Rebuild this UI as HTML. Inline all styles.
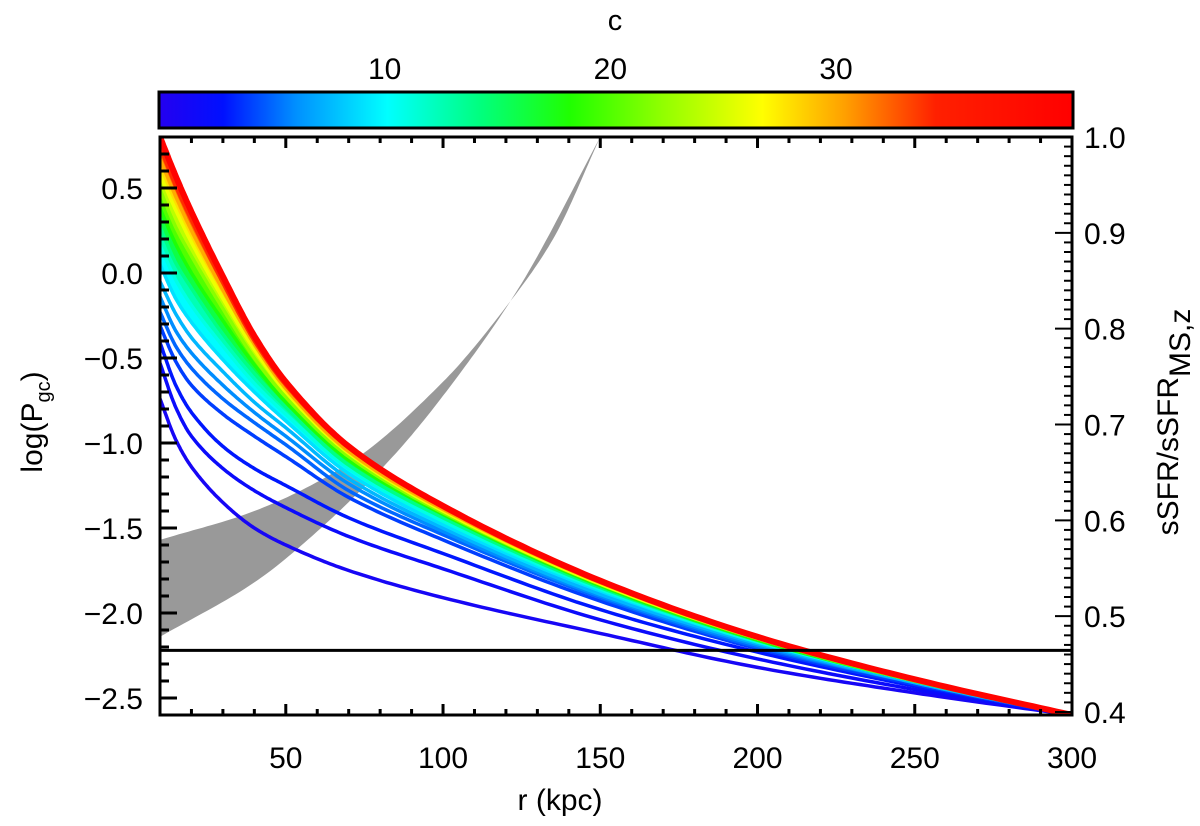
<!DOCTYPE html>
<html><head><meta charset="utf-8"><style>
html,body{margin:0;padding:0;background:#fff;}
svg text{font-family:"Liberation Sans",sans-serif;fill:#000;}
</style></head><body>
<svg id="chart" width="1200" height="821" viewBox="0 0 1200 821" xmlns="http://www.w3.org/2000/svg">
<defs>
<linearGradient id="cbar" x1="0" x2="1" y1="0" y2="0">
<stop offset="0" stop-color="#2400f0"/><stop offset="0.07" stop-color="#0010ff"/><stop offset="0.15" stop-color="#0090ff"/><stop offset="0.25" stop-color="#00ffff"/><stop offset="0.35" stop-color="#00ff80"/><stop offset="0.45" stop-color="#20ff00"/><stop offset="0.55" stop-color="#90ff00"/><stop offset="0.66" stop-color="#ffff00"/><stop offset="0.75" stop-color="#ffa000"/><stop offset="0.85" stop-color="#ff2000"/><stop offset="1" stop-color="#ff0000"/>
</linearGradient>
<clipPath id="pclip"><rect x="160" y="137" width="912" height="578"/></clipPath>
</defs>
<text x="615" y="30" font-size="29" text-anchor="middle">c</text>
<rect x="159" y="92" width="914" height="36" fill="url(#cbar)" stroke="#000" stroke-width="3"/>
<g id="cbticks"></g>
<g id="band" clip-path="url(#pclip)"></g>
<g id="curves" clip-path="url(#pclip)"></g>
<line id="hline" x1="160" x2="1072" stroke="#000" stroke-width="3"/>
<g id="axes"></g>
<text x="560" y="810" font-size="30" text-anchor="middle">r  (kpc)</text>
<text transform="translate(42,422) rotate(-90)" font-size="30" text-anchor="middle">log(P<tspan font-size="20" dy="8">gc</tspan><tspan dy="-8">)</tspan></text>
<text transform="translate(1178,422) rotate(-90)" font-size="30" text-anchor="middle">sSFR/sSFR<tspan dy="12">MS,z</tspan></text>
</svg>
<script>
const rGrid = [10,15,20,30,40,50,70,100,150,200,250,300];
const cValues = [1,2,3,4,5,6,7.5,9,11,14,18,22,26,30,34,40];
const curveViolet = [-0.74,-0.98,-1.14,-1.35,-1.50,-1.60,-1.75,-1.91,-2.12,-2.32,-2.47,-2.60];
const curveBlue2 = [-0.53,-0.79,-0.96,-1.15,-1.28,-1.38,-1.55,-1.74,-2.04,-2.27,-2.45,-2.60];
const curveBlue3 = [-0.41,-0.66,-0.82,-1.02,-1.15,-1.25,-1.44,-1.65,-1.98,-2.23,-2.43,-2.60];
const curveA = [-0.31,-0.52,-0.66,-0.83,-0.96,-1.08,-1.32,-1.57,-1.93,-2.21,-2.42,-2.60];
const curveB = [-0.23,-0.43,-0.56,-0.74,-0.88,-1.01,-1.28,-1.54,-1.91,-2.20,-2.41,-2.60];
const curveC = [-0.14,-0.34,-0.47,-0.66,-0.82,-0.96,-1.24,-1.52,-1.90,-2.19,-2.41,-2.60];
const curveD = [-0.05,-0.24,-0.38,-0.58,-0.76,-0.91,-1.21,-1.50,-1.89,-2.18,-2.41,-2.60];
const curveE = [0.05,-0.15,-0.29,-0.51,-0.70,-0.87,-1.18,-1.48,-1.87,-2.17,-2.40,-2.60];
const curveF = [0.16,-0.04,-0.19,-0.43,-0.65,-0.83,-1.15,-1.46,-1.86,-2.17,-2.40,-2.60];
const curveG = [0.27,0.06,-0.09,-0.36,-0.59,-0.79,-1.13,-1.44,-1.85,-2.16,-2.40,-2.60];
const curveH = [0.38,0.17,0.00,-0.28,-0.54,-0.76,-1.10,-1.42,-1.84,-2.16,-2.40,-2.60];
const curveI = [0.49,0.27,0.10,-0.21,-0.50,-0.73,-1.08,-1.41,-1.83,-2.15,-2.40,-2.60];
const curveJ = [0.58,0.37,0.18,-0.15,-0.45,-0.70,-1.06,-1.40,-1.83,-2.15,-2.39,-2.60];
const curveK = [0.67,0.45,0.25,-0.10,-0.42,-0.68,-1.05,-1.39,-1.82,-2.15,-2.39,-2.60];
const curveL = [0.74,0.51,0.31,-0.06,-0.40,-0.66,-1.03,-1.38,-1.82,-2.14,-2.39,-2.60];
const curveRed = [0.80,0.57,0.36,-0.02,-0.37,-0.64,-1.02,-1.37,-1.81,-2.14,-2.39,-2.60];
const bandUpperR = [10,40,70,100,120,135,150];
const bandUpperV = [-1.57,-1.40,-1.12,-0.64,-0.20,0.20,0.80];
const bandLowerR = [10,40,60,85,105,125,150];
const bandLowerV = [-2.14,-1.82,-1.52,-1.06,-0.60,-0.06,0.80];
const thresholdValue = -2.22;
const xTickLabels = [50,100,150,200,250,300];
const yTickLabels = [-2.5,-2.0,-1.5,-1.0,-0.5,0.0,0.5];
const rightTickLabels = [0.4,0.5,0.6,0.7,0.8,0.9,1.0];
const cbTickLabels = [10,20,30];

const curves=[curveViolet,curveBlue2,curveBlue3,curveA,curveB,curveC,curveD,curveE,curveF,curveG,curveH,curveI,curveJ,curveK,curveL,curveRed];
const NS="http://www.w3.org/2000/svg";
const X0=160,X1=1072,Y0=137,Y1=715;
const xs=r=>X0+(r-10)/290*(X1-X0);
const ys=v=>Y0+(0.8-v)/3.4*(Y1-Y0);
const yr=v=>712-(v-0.4)/0.6*(712-Y0);
const cs=c=>159+c/40.5*914;
const stops=[[0,[36,0,240]],[0.07,[0,16,255]],[0.15,[0,144,255]],[0.25,[0,255,255]],[0.35,[0,255,128]],[0.45,[32,255,0]],[0.55,[144,255,0]],[0.66,[255,255,0]],[0.75,[255,160,0]],[0.85,[255,32,0]],[1,[255,0,0]]];
function cmap(c){const t=Math.max(0,Math.min(1,c/40.5));for(let i=1;i<stops.length;i++){if(t<=stops[i][0]){const a=stops[i-1],b=stops[i];const u=(t-a[0])/(b[0]-a[0]);const col=a[1].map((v,k)=>Math.round(v+(b[1][k]-v)*u));return `rgb(${col.join(',')})`;}}return 'rgb(255,0,0)';}
function mk(tag,attrs,parent){const e=document.createElementNS(NS,tag);for(const k in attrs)e.setAttribute(k,attrs[k]);parent.appendChild(e);return e;}
// monotone cubic (Fritsch-Carlson) in data space, sampled densely
function smoothPts(xsd,ysd){const n=xsd.length,d=[],m=new Array(n);
  for(let i=0;i<n-1;i++)d.push((ysd[i+1]-ysd[i])/(xsd[i+1]-xsd[i]));
  m[0]=d[0];m[n-1]=d[n-2];
  for(let i=1;i<n-1;i++){m[i]=(d[i-1]*d[i]<=0)?0:(2/(1/d[i-1]+1/d[i]));}
  const out=[];
  for(let i=0;i<n-1;i++){const h=xsd[i+1]-xsd[i];for(let s=0;s<20;s++){const t=s/20,t2=t*t,t3=t2*t;
    const v=(2*t3-3*t2+1)*ysd[i]+(t3-2*t2+t)*h*m[i]+(-2*t3+3*t2)*ysd[i+1]+(t3-t2)*h*m[i+1];
    out.push([xs(xsd[i]+t*h),ys(v)]);}}
  out.push([xs(xsd[n-1]),ys(ysd[n-1])]);return out;}
const toD=pts=>pts.map((p,i)=>(i?'L':'M')+p[0].toFixed(1)+','+p[1].toFixed(1)).join('');

const up=smoothPts(bandUpperR,bandUpperV), lo=smoothPts(bandLowerR,bandLowerV);
const band=mk('path',{d:toD(up)+toD(lo.slice().reverse()).replace('M','L')+'Z',fill:'#999999'},document.getElementById('band'));



const cg=document.getElementById('curves');
for(let i=7;i<curves.length-1;i++){
  const a=smoothPts(rGrid,curves[i]),b=smoothPts(rGrid,curves[i+1]);
  const f=mk('path',{d:toD(a)+toD(b.slice().reverse()).replace('M','L')+'Z',fill:cmap((cValues[i]+cValues[i+1])/2)},cg);
  
  
}
curves.forEach((cv,i)=>{
  const p=mk('path',{d:toD(smoothPts(rGrid,cv)),fill:'none',stroke:cmap(cValues[i]),'stroke-width':i===curves.length-1?6:3.5,'stroke-linejoin':'round'},cg);
  
  
});

const hl=document.getElementById('hline');
hl.setAttribute('y1',ys(thresholdValue));hl.setAttribute('y2',ys(thresholdValue));

const ax=document.getElementById('axes');
const fr=mk('rect',{x:X0,y:Y0,width:X1-X0,height:Y1-Y0,fill:'none',stroke:'#000','stroke-width':3},ax);


for(let r=10;r<=300;r+=10){const maj=r%50===0;const L=maj?11:6;
  mk('line',{x1:xs(r),x2:xs(r),y1:Y1,y2:Y1-L,stroke:'#000','stroke-width':3},ax);
  mk('line',{x1:xs(r),x2:xs(r),y1:Y0,y2:Y0+L,stroke:'#000','stroke-width':3},ax);}
xTickLabels.forEach(v=>{const t=mk('text',{x:xs(v),y:768,'font-size':30,'text-anchor':'middle'},ax);t.textContent=v;
  
  });
for(let k=-26;k<=8;k++){const v=k/10;const maj=k%5===0;mk('line',{x1:X0,x2:X0+(maj?17:9),y1:ys(v),y2:ys(v),stroke:'#000','stroke-width':3},ax);}
yTickLabels.forEach(v=>{const t=mk('text',{x:143,y:ys(v)+11,'font-size':30,'text-anchor':'end'},ax);t.textContent=(v<0?'\u2212':'')+Math.abs(v).toFixed(1);
  
  });
for(let k=40;k<=100;k++){const v=k/100;const maj=k%10===0;const y=yr(v);if(y>Y1)continue;mk('line',{x1:X1,x2:X1-(maj?17:8),y1:y,y2:y,stroke:'#000','stroke-width':2},ax);}
rightTickLabels.forEach(v=>{const t=mk('text',{x:1084,y:yr(v)+11,'font-size':30,'text-anchor':'start'},ax);t.textContent=v.toFixed(1);
  
  });
const cb=document.getElementById('cbticks');
cbTickLabels.forEach(v=>{const t=mk('text',{x:cs(v),y:79,'font-size':30,'text-anchor':'middle'},cb);t.textContent=v;
  
  });
</script>
</body></html>
